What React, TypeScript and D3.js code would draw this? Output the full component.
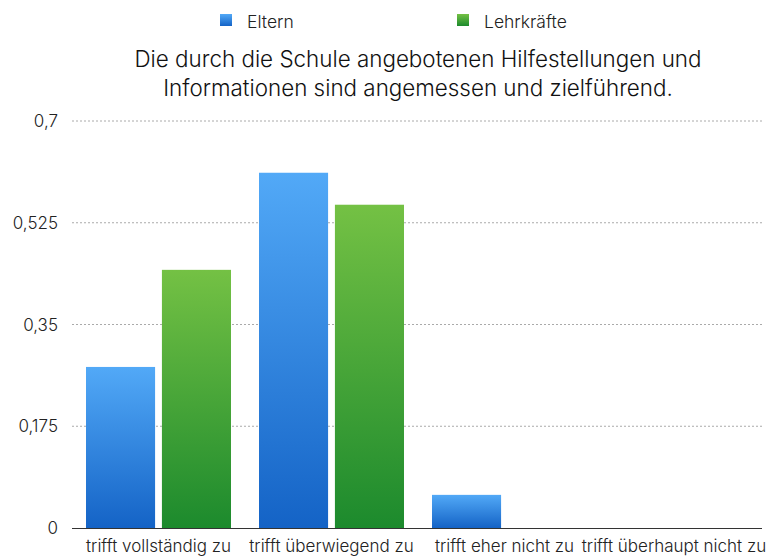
import React from "react";
import * as d3 from "d3";

const categories = ["trifft vollständig zu", "trifft überwiegend zu", "trifft eher nicht zu", "trifft überhaupt nicht zu"];
const seriesNames = ["Eltern", "Lehrkräfte"];
const eltern = [0.277, 0.611, 0.057, 0];
const lehrkraefte = [0.444, 0.556, 0, 0];
const yTicks = [0, 0.175, 0.35, 0.525, 0.7];
const yTickLabels = ["0", "0,175", "0,35", "0,525", "0,7"];
const titleLines = ["Die durch die Schule angebotenen Hilfestellungen und", "Informationen sind angemessen und zielführend."];

const W = 774, H = 557;
const left = 72, right = 764, top = 121, bottom = 528;
const font = "Inter, 'Helvetica Neue', Helvetica, Arial, sans-serif";

export default function App() {
  const x = d3.scaleBand<string>().domain(categories).range([left, right]).paddingInner(0).paddingOuter(0);
  const xs = d3.scaleBand<string>().domain(seriesNames).range([14, x.bandwidth() - 14]).paddingInner(0.09);
  const y = d3.scaleLinear().domain([0, 0.7]).range([bottom, top]);
  const data = [eltern, lehrkraefte];
  const fills = ["url(#gBlue)", "url(#gGreen)"];
  return (
    <svg width={W} height={H} style={{ position: "absolute", left: 0, top: 0, background: "#fff" }} fontFamily={font}>
      <defs>
        <linearGradient id="gBlue" x1="0" y1="0" x2="0" y2="1">
          <stop offset="0" stopColor="#52a9f7" />
          <stop offset="1" stopColor="#1463c6" />
        </linearGradient>
        <linearGradient id="gGreen" x1="0" y1="0" x2="0" y2="1">
          <stop offset="0" stopColor="#74c144" />
          <stop offset="1" stopColor="#1c8a2d" />
        </linearGradient>
      </defs>
      {seriesNames.map((s, i) => {
        const lx = [220, 457][i];
        return (
          <g key={s}>
            <rect x={lx} y={14} width={12} height={12} fill={fills[i]} />
            <text x={lx + 27} y={28} fontSize={17.5} fontWeight={300} fill="#222">{s}</text>
          </g>
        );
      })}
      {titleLines.map((t, i) => (
        <text key={i} x={(left + right) / 2} y={67 + i * 29} textAnchor="middle" fontSize={22.4} fontWeight={300} fill="#111">{t}</text>
      ))}
      {yTicks.map((t, i) => (
        <g key={t}>
          {t > 0 && <line x1={left} x2={right} y1={y(t)} y2={y(t)} stroke="#aaa" strokeWidth={1} strokeDasharray="2,2" />}
          <text x={58} y={y(t) + 6} textAnchor="end" fontSize={17} fontWeight={300} fill="#222">{yTickLabels[i]}</text>
        </g>
      ))}
      {categories.map((c, ci) => (
        <g key={c}>
          {data.map((arr, si) => arr[ci] > 0 ? (
            <rect key={si} x={(x(c) as number) + (xs(seriesNames[si]) as number)} y={y(arr[ci])}
              width={xs.bandwidth()} height={bottom - y(arr[ci])} fill={fills[si]} />
          ) : null)}
          <text x={Math.min((x(c) as number) + x.bandwidth() / 2, 674)} y={552} textAnchor="middle" fontSize={17} fontWeight={300} fill="#222">{c}</text>
        </g>
      ))}
      <line x1={left} x2={762} y1={bottom + 0.5} y2={bottom + 0.5} stroke="#333" strokeWidth={1} />
    </svg>
  );
}
